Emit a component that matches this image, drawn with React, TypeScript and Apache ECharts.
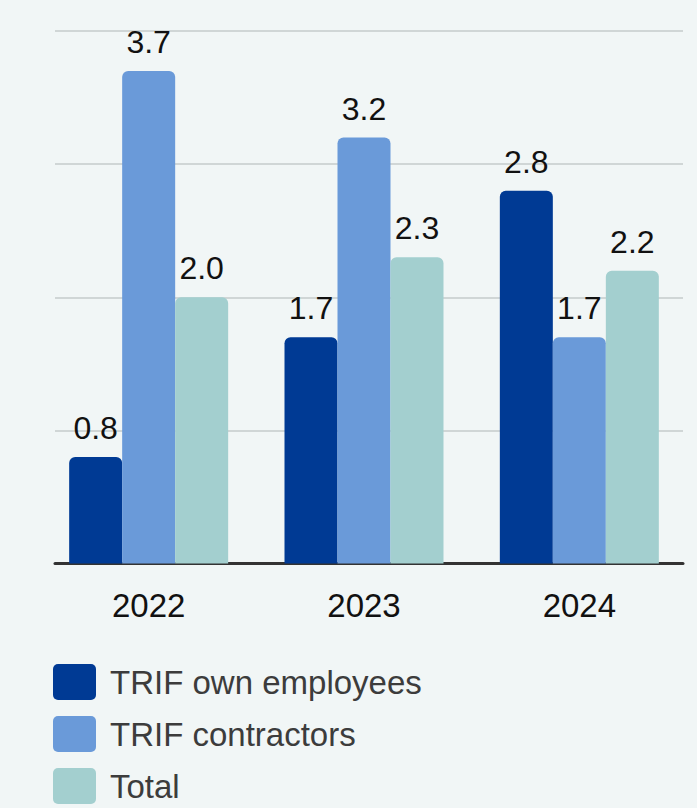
import React, { useEffect, useRef } from "react";
import * as echarts from "echarts";

const years = ["2022", "2023", "2024"];
const ownEmployees = [0.8, 1.7, 2.8];
const contractors = [3.7, 3.2, 1.7];
const total = [2.0, 2.3, 2.2];
const seriesNames = ["TRIF own employees", "TRIF contractors", "Total"];
const colors = ["#003a94", "#6a9ad9", "#a3cfcf"];

const FONT = "'Liberation Sans', Arial, Helvetica, sans-serif";
const ICON =
  "path://M5,0H38A5,5,0,0,1,43,5V31A5,5,0,0,1,38,36H5A5,5,0,0,1,0,31V5A5,5,0,0,1,5,0Z";

export default function App() {
  const ref = useRef<HTMLDivElement>(null);
  useEffect(() => {
    if (!ref.current) return;
    const chart = echarts.init(ref.current, null, { renderer: "svg" });
    const values = [ownEmployees, contractors, total];
    chart.setOption({
      animation: false,
      backgroundColor: "#f1f6f6",
      textStyle: { fontFamily: FONT },
      grid: [
        { left: 41, right: 10, top: 31, bottom: 244.5 },
        { left: 55, right: 14, top: 31, bottom: 244.5 },
      ],
      xAxis: [
        {
          type: "category",
          gridIndex: 0,
          data: years,
          axisLine: { show: false },
          axisTick: { show: false },
          axisLabel: {
            color: "#111",
            fontSize: 33,
            fontFamily: FONT,
            margin: 25,
          },
        },
        {
          type: "category",
          gridIndex: 1,
          data: years,
          axisLine: { show: true, lineStyle: { color: "#333", width: 3 } },
          axisTick: { show: false },
          axisLabel: { show: false },
        },
      ],
      yAxis: [
        {
          type: "value",
          gridIndex: 0,
          min: 0,
          max: 4,
          interval: 1,
          axisLabel: { show: false },
          splitLine: { show: false },
          axisLine: { show: false },
          axisTick: { show: false },
        },
        {
          type: "value",
          gridIndex: 1,
          min: 0,
          max: 4,
          interval: 1,
          axisLabel: { show: false },
          splitLine: { show: true, lineStyle: { color: "#d0d6d6", width: 2 } },
          axisLine: { show: false },
          axisTick: { show: false },
        },
      ],
      legend: {
        orient: "vertical",
        left: 53,
        top: 664,
        height: 144,
        padding: 0,
        itemWidth: 43,
        itemHeight: 36,
        itemGap: 16,
        icon: ICON,
        textStyle: {
          fontSize: 33,
          color: "#3c3c3c",
          fontFamily: FONT,
          padding: [0, 0, 0, 9],
        },
        data: seriesNames,
      },
      series: seriesNames.map((name, i) => ({
        name,
        type: "bar",
        xAxisIndex: 0,
        yAxisIndex: 0,
        data: values[i],
        barWidth: 53,
        barGap: "0%",
        itemStyle: { color: colors[i], borderRadius: [6, 6, 0, 0] },
        label: {
          show: true,
          position: "top",
          distance: 13,
          color: "#111",
          fontSize: 32,
          fontFamily: FONT,
          formatter: (p: any) => Number(p.value).toFixed(1),
        },
      })),
    });
    return () => chart.dispose();
  }, []);
  return (
    <div
      ref={ref}
      style={{ position: "fixed", left: 0, top: 0, width: 697, height: 808 }}
    />
  );
}
